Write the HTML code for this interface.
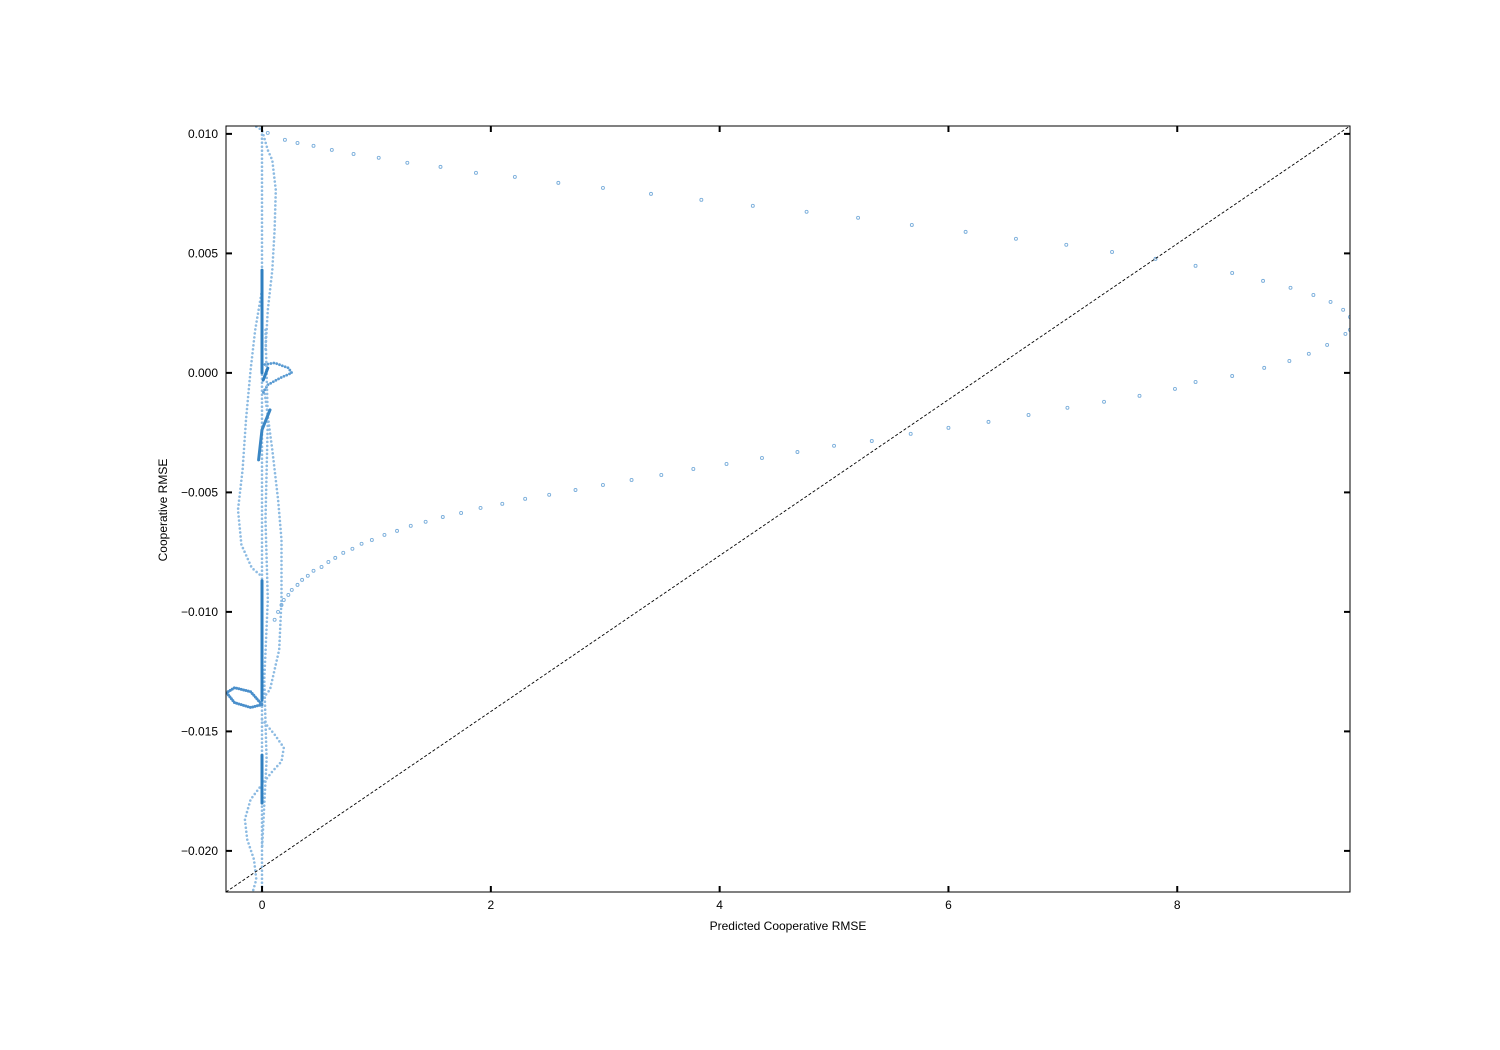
<!DOCTYPE html>
<html><head><meta charset="utf-8"><style>
html,body{margin:0;padding:0;background:#fff;}
svg{display:block;font-family:"Liberation Sans",sans-serif;}
</style></head><body>
<svg id="chart" width="1500" height="1050" viewBox="0 0 1500 1050">
<rect x="0" y="0" width="1500" height="1050" fill="#fff"/>
<g id="marks"></g>
<g id="axes"></g>
</svg>
<script>
const xDomain=[-0.315,9.51];
const yDomain=[-0.02172,0.01033];
const xTicks=[0,2,4,6,8];
const xTickLabels=["0","2","4","6","8"];
const yTicks=[0.010,0.005,0,-0.005,-0.010,-0.015,-0.020];
const yTickLabels=["0.010","0.005","0.000","\u22120.005","\u22120.010","\u22120.015","\u22120.020"];
const arcX=[0.05,0.20,0.31,0.45,0.61,0.80,1.02,1.27,1.56,1.87,2.21,2.59,2.98,3.40,3.84,4.29,4.76,5.21,5.68,6.15,6.59,7.03,7.43,7.81,8.16,8.48,8.75,8.99,9.19,9.34,9.45,9.51,9.51,9.47,9.31,9.15,8.98,8.76,8.48,8.16,7.98,7.67,7.36,7.04,6.70,6.35,6.00,5.67,5.33,5.00,4.68,4.37,4.06,3.77,3.49,3.23,2.98,2.74,2.51,2.30,2.10,1.91,1.74,1.58,1.43,1.30,1.18,1.07,0.96,0.87,0.79,0.71,0.64,0.58,0.52,0.45,0.40,0.35,0.31,0.26,0.23,0.19,0.17,0.14,0.11];
const arcY=[0.01004,0.00975,0.00962,0.0095,0.00933,0.00916,0.009,0.00879,0.00862,0.00837,0.0082,0.00795,0.00774,0.00749,0.00724,0.00699,0.00674,0.00649,0.00619,0.0059,0.00561,0.00536,0.00506,0.00477,0.00448,0.00418,0.00385,0.00356,0.00326,0.00297,0.00264,0.00234,0.0018,0.00163,0.00117,0.0008,0.0005,0.00021,-0.00013,-0.00038,-0.00067,-0.00096,-0.00121,-0.00146,-0.00176,-0.00205,-0.0023,-0.00255,-0.00285,-0.00305,-0.00331,-0.00356,-0.00381,-0.00402,-0.00427,-0.00448,-0.00469,-0.0049,-0.0051,-0.00527,-0.00548,-0.00565,-0.00586,-0.00603,-0.00623,-0.0064,-0.00661,-0.00678,-0.00699,-0.00715,-0.00736,-0.00753,-0.00774,-0.00791,-0.00812,-0.00828,-0.00849,-0.00866,-0.00887,-0.00908,-0.00929,-0.0095,-0.00971,-0.01,-0.01033];
const traceMainX=[0,0];
const traceMainY=[0.0103,-0.0217];
const traceBX=[-0.05,0,0.05,0.09,0.12,0.11,0.09,0.05,0.03];
const traceBY=[0.0103,0.01016,0.00932,0.0089,0.00765,0.00598,0.0043,0.00263,0.00096];
const traceCX=[0,-0.06,-0.1,-0.14,-0.17,-0.21,-0.18,-0.09,-0.02];
const traceCY=[0.00347,0.0018,0.00013,-0.00196,-0.00405,-0.00573,-0.00719,-0.00815,-0.00844];
const traceDX=[0.02,0.09,0.14,0.17,0.17,0.15,0.07,0];
const traceDY=[-0.00071,-0.00322,-0.00531,-0.00698,-0.00949,-0.01158,-0.01325,-0.01367];
const traceEX=[0,0.11,0.23,0.26,0.16,0.05,0];
const traceEY=[0.00033,0.00042,0.00021,0,-0.00021,-0.0005,-0.00092];
const traceGX=[0,-0.1,-0.24,-0.31,-0.24,-0.1,0];
const traceGY=[-0.01388,-0.014,-0.0138,-0.01338,-0.01317,-0.01334,-0.01388];
const traceHX=[0,0.11,0.19,0.17,0.09,0];
const traceHY=[-0.0145,-0.01513,-0.01568,-0.01626,-0.01668,-0.01722];
const traceIX=[0,-0.1,-0.15,-0.13,-0.07,-0.05,-0.08];
const traceIY=[-0.01722,-0.01785,-0.01868,-0.01952,-0.02036,-0.02119,-0.02169];
const traceJX=[0.03,0.05,0.03,0.05,0.02,0.04,0];
const traceJY=[0.0018,-0.00196,-0.00614,-0.00949,-0.01283,-0.01618,-0.01994];
const thickFX=[0.07,0,-0.03];
const thickFY=[-0.00155,-0.00238,-0.00364];
const thickSegX=[[0,0],[0,0],[0,0],[0.01,0.05]];
const thickSegY=[[0.0043,0.0],[-0.0087,-0.0137],[-0.016,-0.018],[-0.0003,0.0002]];

const L=226,R=1350,T=126,B=892;
const sx=v=>L+(v-xDomain[0])/(xDomain[1]-xDomain[0])*(R-L);
const sy=v=>B-(v-yDomain[0])/(yDomain[1]-yDomain[0])*(B-T);
const NS="http://www.w3.org/2000/svg";
const marks=document.getElementById('marks'),axes=document.getElementById('axes');
function mk(tag,attrs,parent){const e=document.createElementNS(NS,tag);for(const k in attrs)e.setAttribute(k,attrs[k]);parent.appendChild(e);return e;}
const clip=mk('clipPath',{id:'pc'},document.getElementById('chart'));
mk('rect',{x:L,y:T,width:R-L,height:B-T},clip);
marks.setAttribute('clip-path','url(#pc)');

function trace(xs,ys,name,w,dash,col){
  const pts=xs.map((x,i)=>sx(x).toFixed(1)+','+sy(ys[i]).toFixed(1)).join(' ');
  const p=mk('polyline',{points:pts,fill:'none',stroke:col,'stroke-width':w,'stroke-linecap':'round','stroke-linejoin':'round'},marks);
  if(dash)p.setAttribute('stroke-dasharray',dash);
  
  
}
const light='#8dbbe2';
trace(traceMainX,traceMainY,'trace-main',2.6,'0 4',light);
trace(traceBX,traceBY,'trace-top-loop',2.6,'0 4',light);
trace(traceCX,traceCY,'trace-left-bulge',2.6,'0 4',light);
trace(traceDX,traceDY,'trace-right-bulge',2.6,'0 4',light);
trace(traceEX,traceEY,'trace-zero-loop',2.8,'0 3','#5a9bd2');
trace(traceGX,traceGY,'trace-left-loop',3,'0 2.4','#4a8fcb');
trace(traceHX,traceHY,'trace-lower-bulge',2.6,'0 4',light);
trace(traceIX,traceIY,'trace-bottom-bulge',2.6,'0 4',light);
trace(traceJX,traceJY,'trace-inner',2.6,'0 4',light);
trace(thickFX,thickFY,'trace-diagonal-thick',3,null,'#3a86c4');
thickSegX.forEach((xs,i)=>trace(xs,thickSegY[i],'trace-thick-segment',3,null,'#2f7fc0'));

arcX.forEach((x,i)=>{
  const c=mk('circle',{cx:sx(x),cy:sy(arcY[i]),r:1.5,fill:'none',stroke:'#7aaedb','stroke-width':0.9},marks);
  
  
});

const diag=mk('line',{x1:sx(xDomain[0]),y1:sy(yDomain[0]),x2:sx(xDomain[1]),y2:sy(yDomain[1]),stroke:'#000','stroke-width':0.9,'stroke-dasharray':'3 2'},marks);



const frame=mk('rect',{x:L,y:T,width:R-L,height:B-T,fill:'none',stroke:'#000','stroke-width':1},axes);



xTicks.forEach((v,i)=>{
  const x=sx(v);
  mk('line',{x1:x,y1:B,x2:x,y2:B-6,stroke:'#000','stroke-width':2},axes);
  mk('line',{x1:x,y1:T,x2:x,y2:T+6,stroke:'#000','stroke-width':2},axes);
  const t=mk('text',{x:x,y:B+17,'text-anchor':'middle','font-size':12,fill:'#000'},axes);
  t.textContent=xTickLabels[i];
  
  
});
yTicks.forEach((v,i)=>{
  const y=sy(v);
  mk('line',{x1:L,y1:y,x2:L+6,y2:y,stroke:'#000','stroke-width':2},axes);
  mk('line',{x1:R,y1:y,x2:R-6,y2:y,stroke:'#000','stroke-width':2},axes);
  const t=mk('text',{x:L-8,y:y+4,'text-anchor':'end','font-size':12,fill:'#000'},axes);
  t.textContent=yTickLabels[i];
  
  
});
const xt=mk('text',{x:788,y:930,'text-anchor':'middle','font-size':12,fill:'#000'},axes);
xt.textContent='Predicted Cooperative RMSE';


const yt=mk('text',{x:167,y:510,'text-anchor':'middle','font-size':12,fill:'#000',transform:'rotate(-90 167 510)'},axes);
yt.textContent='Cooperative RMSE';


</script>
</body></html>
